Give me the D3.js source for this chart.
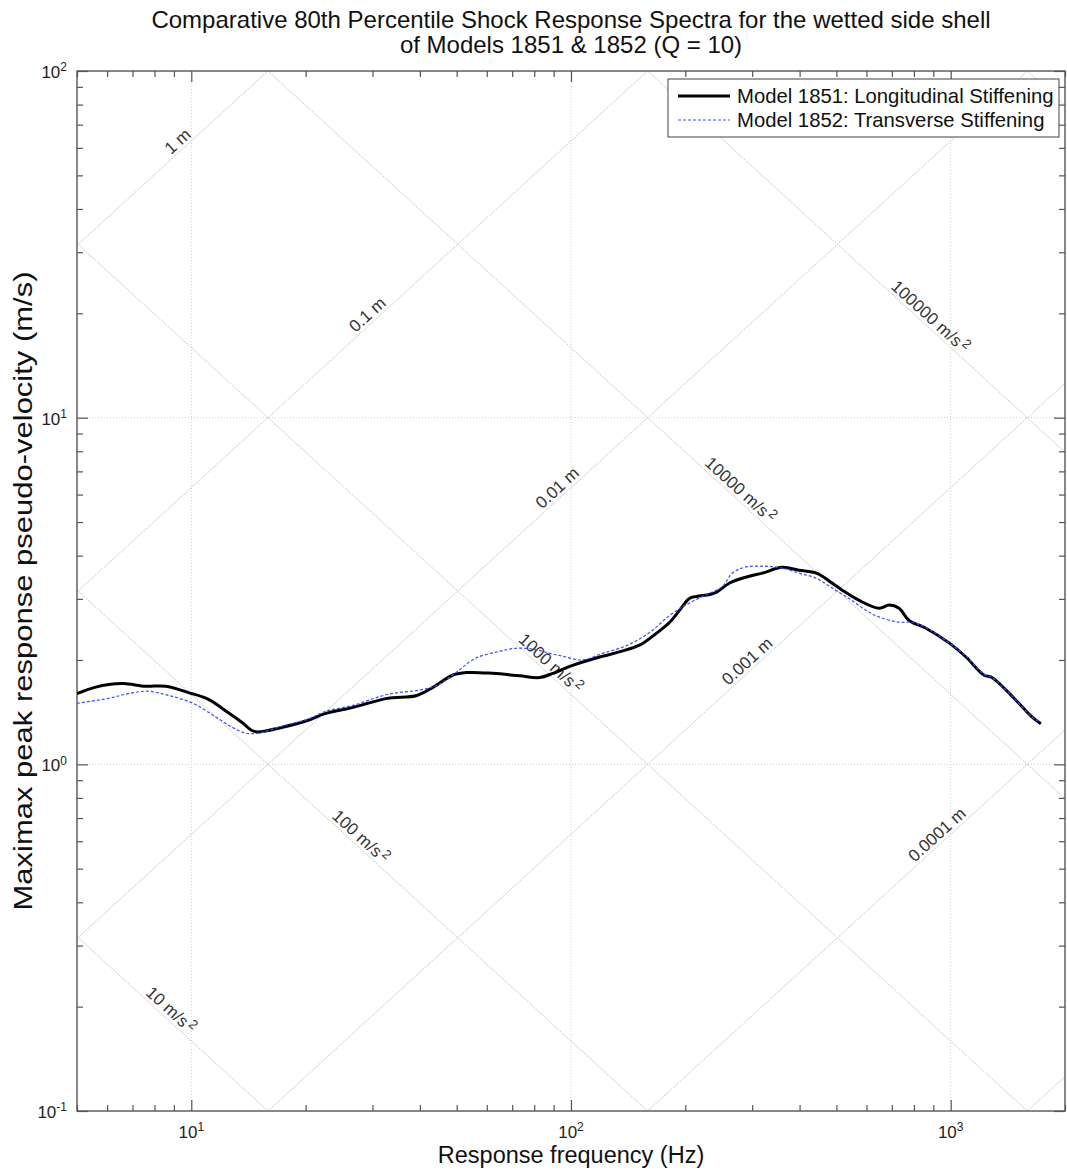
<!DOCTYPE html>
<html>
<head>
<meta charset="utf-8">
<script src="https://cdnjs.cloudflare.com/ajax/libs/d3/7.8.5/d3.min.js"></script>
<style>
  html, body { margin: 0; padding: 0; background: #fff; }
  svg { display: block; font-family: Arial, "Liberation Sans", Helvetica, sans-serif; }
</style>
</head>
<body>
<svg id="chart" width="1067" height="1171"></svg>
<script>
// Maximax pseudo-velocity spectra, Model 1851 (longitudinal stiffening)
const freq1851 = [5, 5.6, 6.06, 6.64, 7.59, 8.56, 9.84, 11.1, 12.5, 13.6,
  14.5, 15.0, 17.4, 20.3, 22.5, 26.7, 32.8, 39.3, 43.4, 48.9,
  53.2, 62.3, 73.3, 82.8, 89.6, 101, 121, 134, 152, 168,
  182, 193, 205, 214, 232, 242, 261, 290, 319, 360,
  399, 443, 488, 518, 574, 648, 688, 731, 777, 861,
  990, 1097, 1223, 1284, 1397, 1512, 1636, 1728];
const vel1851 = [1.60, 1.67, 1.70, 1.71, 1.68, 1.68, 1.61, 1.54, 1.41, 1.32,
  1.25, 1.24, 1.28, 1.34, 1.40, 1.46, 1.55, 1.58, 1.67, 1.81,
  1.84, 1.83, 1.80, 1.78, 1.83, 1.93, 2.05, 2.11, 2.21, 2.39,
  2.57, 2.78, 3.01, 3.05, 3.09, 3.14, 3.33, 3.47, 3.56, 3.70,
  3.63, 3.56, 3.33, 3.18, 2.97, 2.82, 2.88, 2.82, 2.60, 2.47,
  2.24, 2.04, 1.81, 1.78, 1.64, 1.50, 1.37, 1.31];

// Model 1852 (transverse stiffening)
const freq1852 = [5, 6.06, 6.84, 7.68, 8.72, 10.1, 11.6, 12.8, 13.9, 15.0,
  17.4, 20.3, 22.5, 26.7, 32.8, 40.1, 44.4, 49.5, 55.9, 65.0,
  71.2, 79.4, 88.0, 95.2, 107, 121, 140, 161, 182, 205,
  232, 250, 266, 286, 323, 360, 399, 443, 488, 540, 599,
  648, 731, 791, 861, 990, 1097, 1223, 1284, 1397, 1512,
  1636, 1728];
const vel1852 = [1.50, 1.55, 1.60, 1.625, 1.58, 1.50, 1.37, 1.28, 1.23, 1.23,
  1.29, 1.35, 1.42, 1.48, 1.59, 1.64, 1.69, 1.83, 2.02, 2.12,
  2.16, 2.15, 2.09, 2.05, 2.00, 2.09, 2.20, 2.40, 2.69, 2.92,
  3.12, 3.25, 3.56, 3.70, 3.73, 3.68, 3.56, 3.44, 3.22, 3.01, 2.78,
  2.66, 2.57, 2.57, 2.48, 2.24, 2.05, 1.82, 1.78, 1.64, 1.50,
  1.37, 1.32];

// Tripartite grid levels
const dispLevels = [1, 0.1, 0.01, 0.001, 0.0001, 0.00001];
const dispLabels = ["1 m", "0.1 m", "0.01 m", "0.001 m", "0.0001 m"];
const accLevels = [10, 100, 1000, 10000, 100000, 1000000];
const accLabels = ["10", "100", "1000", "10000", "100000"];

const xTicks = [10, 100, 1000];
const xTickExp = ["1", "2", "3"];
const yTicks = [0.1, 1, 10, 100];
const yTickExp = ["-1", "0", "1", "2"];

const seriesNames = ["Model 1851: Longitudinal Stiffening", "Model 1852: Transverse Stiffening"];
const titleLines = ["Comparative 80th Percentile Shock Response Spectra for the wetted side shell",
                    "of Models 1851 & 1852 (Q = 10)"];

const svg = d3.select("#chart");
const L = 77, R = 1065, T = 71, B = 1111;
const x = d3.scaleLog().domain([5, 2000]).range([L, R]);
const y = d3.scaleLog().domain([0.1, 100]).range([B, T]);
const TWO_PI = 2 * Math.PI;

svg.append("defs").append("clipPath").attr("id", "plotClip")
  .append("rect").attr("x", L).attr("y", T).attr("width", R - L).attr("height", B - T);

const gridG = svg.append("g").attr("clip-path", "url(#plotClip)");

// decade grid
gridG.selectAll("line.vg").data(xTicks).join("line")
  .attr("x1", d => x(d)).attr("x2", d => x(d)).attr("y1", T).attr("y2", B)
  .attr("stroke", "#cfcfcf").attr("stroke-width", 1).attr("stroke-dasharray", "1,2");
gridG.selectAll("line.hg").data([1, 10]).join("line")
  .attr("y1", d => y(d)).attr("y2", d => y(d)).attr("x1", L).attr("x2", R)
  .attr("stroke", "#cfcfcf").attr("stroke-width", 1).attr("stroke-dasharray", "1,2");

// constant displacement lines: V = 2*pi*f*D
const fr = x.domain();
gridG.selectAll("line.dl").data(dispLevels).join("line")
  .attr("x1", x(fr[0])).attr("y1", d => y(TWO_PI * fr[0] * d))
  .attr("x2", x(fr[1])).attr("y2", d => y(TWO_PI * fr[1] * d))
  .attr("stroke", "#cacaca").attr("stroke-width", 1).attr("stroke-dasharray", "2,1");
// constant acceleration lines: V = A/(2*pi*f)
gridG.selectAll("line.al").data(accLevels).join("line")
  .attr("x1", x(fr[0])).attr("y1", d => y(d / (TWO_PI * fr[0])))
  .attr("x2", x(fr[1])).attr("y2", d => y(d / (TWO_PI * fr[1])))
  .attr("stroke", "#cacaca").attr("stroke-width", 1).attr("stroke-dasharray", "2,1");

// diagonal labels
const angle = Math.atan((y(1) - y(10)) / (x(100) - x(10))) * 180 / Math.PI;
const labelG = svg.append("g").attr("fill", "#333").attr("font-size", 17);
const accAt = 3600;   // displacement labels sit where A = 3600 m/s^2
const dispAt = 0.0035; // acceleration labels sit where D = 0.0035 m
dispLabels.forEach((lab, i) => {
  const D = dispLevels[i];
  const f = Math.sqrt(accAt / D) / TWO_PI, v = Math.sqrt(accAt * D);
  labelG.append("text")
    .attr("transform", `translate(${x(f)},${y(v)}) rotate(${-angle})`)
    .attr("text-anchor", "middle").attr("dy", "-0.2em")
    .text(lab);
});
accLabels.forEach((lab, i) => {
  const A = accLevels[i];
  const f = Math.sqrt(A / dispAt) / TWO_PI, v = Math.sqrt(A * dispAt);
  const t = labelG.append("text")
    .attr("transform", `translate(${x(f)},${y(v)}) rotate(${angle})`)
    .attr("text-anchor", "middle").attr("dy", "-0.2em");
  t.append("tspan").text(lab + " m/s");
  t.append("tspan").attr("dy", "-0.45em").attr("dx", "2").attr("font-size", 13).text("2");
});

// axes box and ticks
const axisColor = "#555";
const minorX = [];
[1, 10, 100, 1000].forEach(dec => { for (let k = 2; k <= 9; k++) { const v = dec * k; if (v >= 5 && v <= 2000 && !xTicks.includes(v)) minorX.push(v); } });
const minorY = [];
[0.1, 1, 10].forEach(dec => { for (let k = 2; k <= 9; k++) minorY.push(dec * k); });

function styleAxis(g) {
  g.select(".domain").remove();
  g.selectAll(".tick line").attr("stroke", axisColor).attr("stroke-width", 1.2);
  g.selectAll(".tick text").remove();
}
svg.append("g").attr("transform", `translate(0,${B})`).call(d3.axisBottom(x).tickValues(xTicks).tickSize(-11)).call(styleAxis);
svg.append("g").attr("transform", `translate(0,${B})`).call(d3.axisBottom(x).tickValues(minorX).tickSize(-6)).call(styleAxis);
svg.append("g").attr("transform", `translate(0,${T})`).call(d3.axisTop(x).tickValues(xTicks).tickSize(-11)).call(styleAxis);
svg.append("g").attr("transform", `translate(0,${T})`).call(d3.axisTop(x).tickValues(minorX).tickSize(-6)).call(styleAxis);
svg.append("g").attr("transform", `translate(${L},0)`).call(d3.axisLeft(y).tickValues(yTicks).tickSize(-11)).call(styleAxis);
svg.append("g").attr("transform", `translate(${L},0)`).call(d3.axisLeft(y).tickValues(minorY).tickSize(-6)).call(styleAxis);
svg.append("g").attr("transform", `translate(${R},0)`).call(d3.axisRight(y).tickValues(yTicks).tickSize(-11)).call(styleAxis);
svg.append("g").attr("transform", `translate(${R},0)`).call(d3.axisRight(y).tickValues(minorY).tickSize(-6)).call(styleAxis);

svg.append("rect").attr("x", L).attr("y", T).attr("width", R - L).attr("height", B - T)
  .attr("fill", "none").attr("stroke", axisColor).attr("stroke-width", 1.4);

// tick labels with superscript exponents
const tickTextG = svg.append("g").attr("fill", "#222").attr("font-size", 17);
xTicks.forEach((v, i) => {
  const t = tickTextG.append("text").attr("x", x(v)).attr("y", B + 27).attr("text-anchor", "middle");
  t.append("tspan").text("10");
  t.append("tspan").attr("dy", "-0.55em").attr("font-size", 12).text(xTickExp[i]);
});
yTicks.forEach((v, i) => {
  const t = tickTextG.append("text").attr("x", L - 10).attr("y", y(v) + 7).attr("text-anchor", "end");
  t.append("tspan").text("10");
  t.append("tspan").attr("dy", "-0.55em").attr("font-size", 12).text(yTickExp[i]);
});

// spectra curves
const line = d3.line().x(d => x(d[0])).y(d => y(d[1])).curve(d3.curveCatmullRom.alpha(0.5));
const plotG = svg.append("g").attr("clip-path", "url(#plotClip)");
plotG.append("path").datum(freq1851.map((f, i) => [f, vel1851[i]]))
  .attr("d", line).attr("fill", "none").attr("stroke", "#000").attr("stroke-width", 3)
  .attr("stroke-linejoin", "round");
plotG.append("path").datum(freq1852.map((f, i) => [f, vel1852[i]]))
  .attr("d", line).attr("fill", "none").attr("stroke", "#3b4cff").attr("stroke-width", 1.2)
  .attr("stroke-dasharray", "3,2");

// legend
const lg = svg.append("g");
lg.append("rect").attr("x", 668).attr("y", 79).attr("width", 391).attr("height", 58)
  .attr("fill", "#fff").attr("stroke", "#444").attr("stroke-width", 1);
lg.append("line").attr("x1", 678).attr("x2", 730).attr("y1", 96).attr("y2", 96)
  .attr("stroke", "#000").attr("stroke-width", 3);
lg.append("line").attr("x1", 678).attr("x2", 730).attr("y1", 120).attr("y2", 120)
  .attr("stroke", "#3b4cff").attr("stroke-width", 1.2).attr("stroke-dasharray", "3,2");
lg.selectAll("text").data(seriesNames).join("text")
  .attr("x", 737).attr("y", (d, i) => 103 + i * 24)
  .attr("font-size", 20.3).attr("fill", "#111").text(d => d);

// titles
svg.selectAll("text.title").data(titleLines).join("text").attr("class", "title")
  .attr("x", (L + R) / 2).attr("y", (d, i) => 28 + i * 25)
  .attr("text-anchor", "middle").attr("font-size", 24).attr("fill", "#111").text(d => d);

svg.append("text").attr("x", (L + R) / 2).attr("y", 1163).attr("text-anchor", "middle")
  .attr("font-size", 23.5).attr("fill", "#111").text("Response frequency (Hz)");
// y-axis title, drawn with glyphs stretched along the text direction
svg.append("text").attr("transform", `translate(32,${(T + B) / 2}) rotate(-90) scale(1.24,1)`)
  .attr("text-anchor", "middle").attr("font-size", 25).attr("fill", "#111")
  .text("Maximax peak response pseudo-velocity (m/s)");
</script>
</body>
</html>
